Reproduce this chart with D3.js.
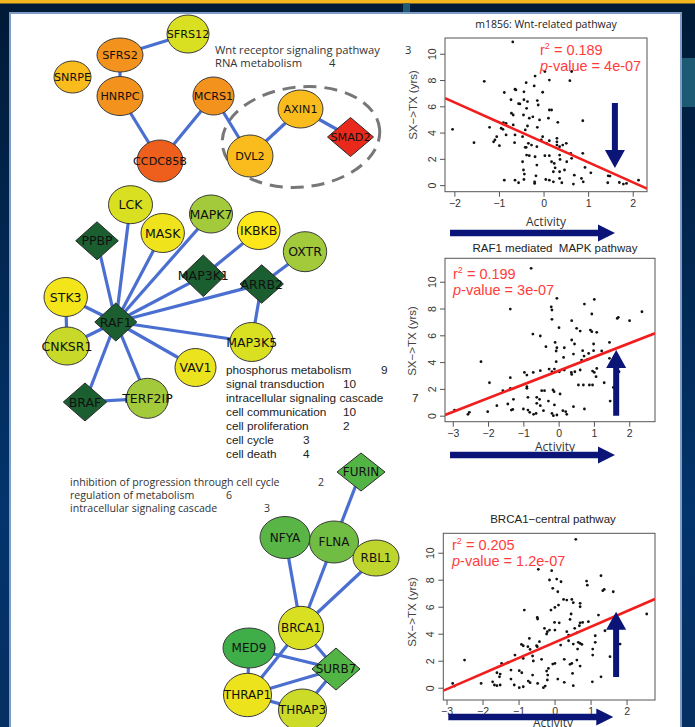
<!DOCTYPE html>
<html>
<head>
<meta charset="utf-8">
<script src="https://cdn.jsdelivr.net/npm/d3@7"></script>
<style>
html,body{margin:0;padding:0;background:#001a38;}
svg{display:block;}
text{white-space:pre;}
</style>
</head>
<body>
<svg id="fig" width="695" height="727"></svg>
<script>
// ---------------- Network data ----------------
// node names, shape (0 = gene ellipse, 1 = diamond hub), and activity score (colour scale)
const wntNodes   = ["SFRS12","SFRS2","SNRPE","HNRPC","MCRS1","CCDC85B","DVL2","AXIN1","SMAD2"];
const wntShapes  = [0,0,0,0,0,0,0,0,1];
const wntScores  = [0,2,1.5,2,2,2.5,1.5,1.5,3];
const wntEdges   = [["SFRS12","SFRS2"],["SFRS2","HNRPC"],["HNRPC","CCDC85B"],["CCDC85B","MCRS1"],
                    ["MCRS1","DVL2"],["DVL2","AXIN1"],["AXIN1","SMAD2"]];

const mapkNodes  = ["LCK","MAPK7","MASK","IKBKB","OXTR","PPBP","MAP3K1","ARRB2","STK3","RAF1","CNKSR1","MAP3K5","VAV1","TERF2IP","BRAF"];
const mapkShapes = [0,0,0,0,0,1,1,1,0,1,0,0,0,0,1];
const mapkScores = [0,-1,0.6,1,-1,-3,-3,-3,0.75,-3,-0.3,0,0.5,-1,-3];
const mapkEdges  = [["RAF1","PPBP"],["RAF1","LCK"],["RAF1","MASK"],["RAF1","MAPK7"],["RAF1","MAP3K1"],
                    ["MAP3K1","IKBKB"],["RAF1","ARRB2"],["ARRB2","OXTR"],["ARRB2","MAP3K5"],["RAF1","MAP3K5"],
                    ["RAF1","VAV1"],["RAF1","TERF2IP"],["RAF1","BRAF"],["BRAF","TERF2IP"],["RAF1","STK3"],
                    ["RAF1","CNKSR1"],["STK3","CNKSR1"]];

const brcaNodes  = ["FURIN","NFYA","FLNA","RBL1","BRCA1","MED9","SURB7","THRAP1","THRAP3"];
const brcaShapes = [1,0,0,0,0,0,1,0,0];
const brcaScores = [-1.8,-1.75,-1.5,-0.5,0,-2,-1.8,0.55,-0.25];
const brcaEdges  = [["FURIN","FLNA"],["NFYA","BRCA1"],["FLNA","BRCA1"],["RBL1","BRCA1"],["BRCA1","SURB7"],
                    ["BRCA1","THRAP1"],["MED9","SURB7"],["MED9","THRAP1"],["THRAP1","SURB7"],
                    ["THRAP1","THRAP3"],["THRAP3","SURB7"]];

// enriched GO terms and counts
const wntTerms   = ["Wnt receptor signaling pathway","RNA metabolism"];
const wntCounts  = [3,4];
const mapkTerms  = ["phosphorus metabolism","signal transduction","intracellular signaling cascade",
                    "cell communication","cell proliferation","cell cycle","cell death"];
const mapkCounts = [9,10,7,10,2,3,4];
const brcaTerms  = ["inhibition of progression through cell cycle","regulation of metabolism","intracellular signaling cascade"];
const brcaCounts = [2,6,3];

// ---------------- Scatter data (Activity, SX->TX years) ----------------
const wntPoints = [
[-0.69,10.9],[-1.33,7.9],[-0.39,7.8],[-0.19,8.3],[0.03,8.65],[0.13,8.0],[0.63,8.65],[0.59,7.95],
[-0.88,7.05],[-0.64,7.3],[-0.62,7.25],[-0.44,7.1],[-0.21,7.55],[-0.02,7.07],
[-0.73,6.5],[-0.56,6.2],[-0.53,6.18],[-0.44,6.5],[-0.36,6.36],[-0.38,5.85],[-0.14,6.44],[-0.12,6.1],
[-0.72,5.47],[-0.68,5.34],[-0.45,5.34],[-0.24,5.2],[-0.32,5.1],[-0.09,4.96],[0.13,5.72],[0.18,5.72],[0.11,5.1],[0.32,4.78],[0.88,4.9],
[-0.84,4.7],[-0.9,4.76],[-1.21,4.4],[-0.95,4.33],[-0.91,4.25],[-0.68,4.58],[-0.36,4.5],[-0.14,4.4],[-0.41,4.2],[-2.04,4.25],
[-1.56,3.23],[-1.12,3.3],[-1.09,3.44],[-1.05,3.69],[-0.99,3.0],[-0.84,3.82],[-0.64,3.82],[-0.65,3.23],[-0.47,3.69],[-0.39,2.88],
[-0.34,3.18],[-0.27,3.05],[-0.15,2.93],[-0.05,3.44],[-0.02,3.69],[0.07,3.18],[0.13,3.38],[0.3,3.56],[0.3,3.3],[0.3,3.05],[0.36,2.93],
[0.43,3.05],[0.51,3.18],
[-0.41,2.88],[-0.38,2.29],[-0.32,2.24],[-0.19,2.16],[0.03,2.24],[0.13,2.24],[0.36,2.29],[0.61,2.42],[0.88,2.42],
[-0.15,1.53],[0.18,1.78],[0.24,1.65],[0.37,1.96],[0.52,1.78],[0.63,2.04],[-0.47,1.78],
[-0.45,1.15],[-0.43,0.84],[-0.17,0.71],[0.22,1.02],[0.26,1.32],[0.36,1.02],[0.47,1.15],[0.69,0.76],[0.93,1.35],[1.06,0.94],[0.85,0.51],[0.89,0.25],
[-0.88,0.38],[-0.64,0.38],[-0.56,0.18],[-0.44,0.43],[-0.2,0.25],[-0.2,0.13],[0.05,0.43],[0.13,0.38],[0.22,0.25],[0.36,0.51],[0.41,0.18],[0.67,0.08],
[1.45,0.71],[1.49,0.69],[1.44,0.18],[1.7,0.2],[1.79,0.08],[1.86,0.13],[2.13,0.38]
];
const mapkPoints = [
[-0.78,11.0],[-1.37,7.96],[-0.05,8.76],[-0.21,8.13],[-0.19,7.89],[0.73,8.33],[1.01,8.68],[0.94,7.59],
[1.69,7.34],[1.66,7.26],[2.01,7.09],[2.36,7.76],[-0.19,7.19],[0.37,7.09],
[-0.73,6.09],[-0.52,5.95],[0.01,6.57],[0.51,6.52],[0.61,6.32],[0.9,6.39],[0.94,6.27],[1.08,6.22],
[-0.36,5.15],[-0.1,5.47],[-0.05,5.07],[-0.07,4.83],[0.16,5.07],[0.37,5.65],[0.45,5.35],[0.68,4.85],[0.99,5.35],[1.22,4.83],[1.44,5.47],
[0.99,4.85],[0.85,4.65],[0.72,4.45],[0.65,4.15],[0.82,4.2],[0.42,4.6],[0.14,4.35],[-0.07,4.03],[-2.2,4.03],
[-1.37,2.84],[-0.97,3.23],[-0.9,3.03],[-0.72,3.23],[-0.52,3.36],[-0.27,3.48],[-0.19,3.28],[-0.12,3.48],[0.02,3.28],[0.16,3.41],
[0.36,3.23],[0.37,3.08],[0.46,3.28],[0.61,3.41],[0.96,3.33],[1.01,3.23],[1.08,3.53],[1.06,2.91],[1.44,4.28],[1.52,3.98],[1.71,3.28],
[-1.96,2.46],[-1.58,1.87],[-1.37,2.04],[-0.9,2.16],[-0.9,2.04],[-0.48,1.87],[-0.4,1.87],[-0.16,1.92],[-0.13,1.79],[0.04,1.62],
[0.56,2.29],[0.7,2.29],[0.87,2.29],[0.96,2.29],[1.55,2.11],[1.29,2.46],
[-1.28,1.22],[-0.87,1.37],[-0.62,1.37],[-0.54,1.22],[-0.29,1.09],[1.46,1.09],[-1.44,0.87],[-1.75,0.75],
[-1.34,0.42],[-1.3,0.47],[-1.0,0.5],[-0.87,0.42],[-0.82,0.25],[-0.71,0.1],[-0.64,0.17],[-0.62,0.92],[-0.52,0.75],[-0.43,0.37],
[-0.19,0.17],[-0.15,0.0],[-0.05,0.05],[-0.12,0.8],[0.12,0.37],[0.2,0.3],[0.23,0.1],[0.42,0.67],[0.73,0.5],
[-2.01,0.3],[-2.53,0.25],[-2.57,0.1],[-2.95,0.42]
];
const brcaPoints = [
[0.59,10.99],[-0.45,8.77],[-0.08,8.67],[1.29,8.3],[-0.14,7.98],[0.06,8.05],[0.18,7.85],[0.89,7.9],[0.91,7.6],
[-0.05,7.36],[0.09,7.11],[1.34,7.19],[1.38,7.28],[1.63,7.11],
[0.25,6.54],[0.34,6.49],[0.48,6.54],[0.52,6.3],[0.71,6.25],[0.11,6.12],[0.01,5.95],[-0.1,5.75],[-0.84,5.75],
[-0.48,5.21],[-0.47,5.09],[0.71,6.0],[0.46,5.46],[0.43,5.06],[0.0,4.84],[0.13,4.81],[0.71,4.81],[0.78,4.84],[0.94,4.89],[1.22,5.38],
[-0.28,4.4],[-0.22,3.98],[-0.2,4.15],[-0.14,4.27],[0.01,4.27],[0.34,4.15],[0.39,3.9],[0.56,4.4],[0.62,4.07],[0.69,4.59],[1.4,4.22],[1.13,3.85],
[-0.7,3.65],[-0.87,3.11],[-0.92,3.21],[-0.74,3.04],[-0.68,2.84],[-0.5,3.11],[-0.48,3.04],[-0.42,3.41],[0.17,3.16],[0.39,3.48],
[0.66,3.36],[0.71,3.28],[0.76,3.21],[0.52,3.23],[1.13,3.36],[1.82,3.23],
[-1.1,2.42],[-1.28,1.88],[-0.87,2.17],[-0.61,2.35],[-0.36,2.1],[-0.59,1.98],[0.27,2.1],[0.62,2.05],[0.64,2.86],[1.06,2.86],[1.06,2.42],[1.54,2.3],
[-2.5,2.05],[-0.05,1.75],[0.01,1.8],[0.43,1.73],[0.48,1.8],[0.71,1.6],[-1.47,1.8],
[-1.6,1.11],[-1.51,1.01],[-1.53,0.81],[-1.21,1.31],[-0.98,1.26],[-0.91,1.11],[-0.61,0.94],[-0.22,1.23],[-0.19,0.94],[-0.17,1.43],[0.5,1.06],[1.29,0.81],
[-1.72,0.44],[-1.67,0.2],[-1.6,0.15],[-1.51,0.2],[-2.04,0.32],[-1.21,0.64],[-1.12,0.2],[-0.98,0.0],[-0.87,0.07],[-0.73,0.49],[-0.68,0.37],
[-0.47,0.32],[-0.31,0.0],[-0.26,0.12],[-0.2,0.57],[0.09,0.64],[0.27,0.4],[0.52,0.15],[1.05,0.44],[-2.83,0.32],[-2.78,0.12],[2.56,5.46]
];

// regression fits: intercept, slope
const wntFit  = [3.26,-1.52];
const mapkFit = [3.35,1.025];
const brcaFit = [3.35,1.155];
const wntStats  = ["0.189","4e-07"];
const mapkStats = ["0.199","3e-07"];
const brcaStats = ["0.205","1.2e-07"];
const titles = ["m1856: Wnt-related pathway","RAF1 mediated  MAPK pathway","BRCA1\u2212central pathway"];
const xTickVals = [[-2,-1,0,1,2],[-3,-2,-1,0,1,2],[-3,-2,-1,0,1,2]];
const yTickVals = [0,2,4,6,8,10];

// ---------------- Layout ----------------
const nodeLayout = {
  SFRS12:[188,34,21,19], SFRS2:[120,55,23,17], SNRPE:[72.5,77,18.5,16], HNRPC:[120,96,23,19.5],
  MCRS1:[213.5,96,20.5,19], CCDC85B:[160,161,23,21], DVL2:[250,156,23,21], AXIN1:[300.5,109,22.5,19],
  SMAD2:[350.5,137,23,19.5],
  LCK:[130.5,204.7,22,19], MAPK7:[211,214,21.5,19], MASK:[162.7,233,21.7,19.5], IKBKB:[258.7,230.5,21.3,19],
  OXTR:[305,251.7,21.7,20], PPBP:[97,240.8,21.3,19], MAP3K1:[203.3,275.8,21.7,20.8], ARRB2:[261.7,284,21.7,19.2],
  STK3:[65.7,297,21.7,19.5], RAF1:[115.8,322,21,19], CNKSR1:[67,346,22,19], MAP3K5:[251.7,342,21.7,19.5],
  VAV1:[195.5,367.5,20.5,19], TERF2IP:[147.5,398.3,21,20], BRAF:[85,402,21.7,19],
  FURIN:[361,472,24,19], NFYA:[285,537.5,25,21], FLNA:[334,542,24.5,21], RBL1:[376,558,23,18],
  BRCA1:[301,628,22.5,21.7], MED9:[249,648,26,20], SURB7:[336,669,24,21], THRAP1:[247.5,695,24,21.7],
  THRAP3:[302.5,710,24,21]
};

const activityColor = d3.scaleLinear()
  .domain([-3,-2,-1,0,1,2,3])
  .range(["#1b5e30","#3fae49","#a2ca3b","#d9e021","#fde619","#f4921e","#e8291c"])
  .interpolate(d3.interpolateRgb);

const svg = d3.select("#fig");

// ---------------- Backdrop ----------------
const defs = svg.append("defs");
const bg = defs.append("linearGradient").attr("id","bg").attr("x1",0).attr("y1",0).attr("x2",0).attr("y2",1);
bg.append("stop").attr("offset","0%").attr("stop-color","#001a36");
bg.append("stop").attr("offset","70%").attr("stop-color","#03346c");
bg.append("stop").attr("offset","100%").attr("stop-color","#062f62");
svg.append("rect").attr("width",695).attr("height",727).attr("fill","url(#bg)");
svg.append("rect").attr("x",0).attr("y",0).attr("width",695).attr("height",3.5).attr("fill","#f3b61f");
svg.append("rect").attr("x",403).attr("y",3.5).attr("width",7).attr("height",10).attr("fill","#1f5a76");
svg.append("rect").attr("x",682).attr("y",58).attr("width",13).attr("height",49).attr("fill","#1d5a74");
svg.append("rect").attr("x",10).attr("y",13).attr("width",671).attr("height",730)
  .attr("fill","#ffffff").attr("stroke","#7f9cc6").attr("stroke-width",2);

// ---------------- Networks ----------------
function drawNetwork(names, shapes, scores, edges, fontSize) {
  const g = svg.append("g");
  const info = {};
  names.forEach((n,i) => info[n] = {name:n, shape:shapes[i], score:scores[i], p:nodeLayout[n]});
  g.selectAll("line.edge").data(edges).join("line")
    .attr("x1", d => info[d[0]].p[0]).attr("y1", d => info[d[0]].p[1])
    .attr("x2", d => info[d[1]].p[0]).attr("y2", d => info[d[1]].p[1])
    .attr("stroke","#4a6fd0").attr("stroke-width",3.2);
  const nodes = g.selectAll("g.node").data(names.map(n => info[n])).join("g")
    .attr("transform", d => `translate(${d.p[0]},${d.p[1]})`);
  nodes.each(function(d){
    const s = d3.select(this);
    const [ , , rx, ry] = d.p;
    if (d.shape === 1) {
      s.append("path").attr("d", `M0,${-ry}L${rx},0L0,${ry}L${-rx},0Z`)
        .attr("fill", activityColor(d.score)).attr("stroke","#2a2a2a").attr("stroke-width",1);
    } else {
      s.append("ellipse").attr("rx",rx).attr("ry",ry)
        .attr("fill", activityColor(d.score)).attr("stroke","#3a3a3a").attr("stroke-width",1);
    }
  });
  nodes.append("text").text(d => d.name)
    .attr("text-anchor","middle").attr("dy","0.36em")
    .attr("font-family","'DejaVu Sans', sans-serif").attr("font-size",fontSize)
    .attr("fill","#111");
}

// dashed outline around the Wnt core
svg.append("ellipse").attr("cx",301).attr("cy",137).attr("rx",79).attr("ry",50)
  .attr("transform","rotate(-6,301,137)")
  .attr("fill","none").attr("stroke","#777").attr("stroke-width",3).attr("stroke-dasharray","13 8");

drawNetwork(wntNodes, wntShapes, wntScores, wntEdges, 11.2);
drawNetwork(mapkNodes, mapkShapes, mapkScores, mapkEdges, 12.5);
drawNetwork(brcaNodes, brcaShapes, brcaScores, brcaEdges, 12);

// ---------------- GO term lists ----------------
function termBlock(terms, counts, x, ys, countXs, font, size, color) {
  const g = svg.append("g").attr("font-family",font).attr("font-size",size).attr("fill",color);
  terms.forEach((t,i) => {
    g.append("text").attr("x",x).attr("y",ys[i]).attr("dy","0.35em").text(t);
    g.append("text").attr("x",countXs[i]).attr("y",ys[i]).attr("dy","0.35em").text(counts[i]);
  });
}
termBlock(wntTerms, wntCounts, 215, [50,63.5], [405,329], "'Open Sans', sans-serif", 11.2, "#333");
termBlock(mapkTerms, mapkCounts, 226, [370,384.3,398.3,412.3,426,440,454],
          [381,343,412,343,343,303,303], "'Liberation Sans', Arial, sans-serif", 11.8, "#222");
termBlock(brcaTerms, brcaCounts, 70, [482.5,495.2,508.5], [318,226,264], "'Open Sans', sans-serif", 10.6, "#333");

// ---------------- Scatter panels ----------------
const fmtTick = d => d < 0 ? "\u2212" + Math.abs(d) : String(d);

function arrowH(g, x0, x1, y) {
  const head = 17;
  g.append("path").attr("fill","#0b1577")
    .attr("d", `M${x0},${y-3.2}L${x1-head},${y-3.2}L${x1-head},${y-8.5}L${x1},${y}L${x1-head},${y+8.5}L${x1-head},${y+3.2}L${x0},${y+3.2}Z`);
}
function arrowV(g, x, yFrom, yTo) {
  const dir = yTo < yFrom ? -1 : 1, head = 18, hw = 10, sw = 3;
  const yh = yTo - dir*head;
  g.append("path").attr("fill","#0b1577")
    .attr("d", `M${x-sw},${yFrom}L${x-sw},${yh}L${x-hw},${yh}L${x},${yTo}L${x+hw},${yh}L${x+sw},${yh}L${x+sw},${yFrom}Z`);
}

function scatter(cfg) {
  const g = svg.append("g");
  const x = d3.scaleLinear().domain(cfg.xDomain).range([cfg.left, cfg.right]);
  const y = d3.scaleLinear().domain(cfg.yDomain).range([cfg.bottom, cfg.top]);
  const cid = "clip" + cfg.id;
  defs.append("clipPath").attr("id",cid).append("rect")
    .attr("x",cfg.left).attr("y",cfg.top).attr("width",cfg.right-cfg.left).attr("height",cfg.bottom-cfg.top);

  // title
  g.append("text").attr("x",cfg.titleX).attr("y",cfg.titleY).attr("dy","0.35em").attr("text-anchor","middle")
    .attr("font-family",cfg.titleFont).attr("font-size",cfg.titleSize).attr("fill","#222").text(cfg.title);

  // axes
  const xa = g.append("g").attr("transform",`translate(0,${cfg.bottom})`)
    .call(d3.axisBottom(x).tickValues(cfg.xTicks).tickSize(5).tickPadding(3).tickFormat(fmtTick));
  const ya = g.append("g").attr("transform",`translate(${cfg.left},0)`)
    .call(d3.axisLeft(y).tickValues(yTickVals).tickSize(5).tickFormat(fmtTick));
  [xa, ya].forEach(a => {
    a.select(".domain").remove();
    a.selectAll("line").attr("stroke","#555");
    a.selectAll("text").attr("font-family","'Liberation Sans', Arial, sans-serif").attr("font-size",10.5).attr("fill","#333");
  });
  ya.selectAll("text").attr("x",null).attr("dy",null).attr("text-anchor","middle")
    .attr("transform","translate(-9.5,0) rotate(-90)");

  g.append("rect").attr("x",cfg.left).attr("y",cfg.top).attr("width",cfg.right-cfg.left).attr("height",cfg.bottom-cfg.top)
    .attr("fill","none").attr("stroke","#555").attr("stroke-width",1);

  // axis titles
  g.append("text").attr("transform",`translate(${cfg.yLabelX},${cfg.yLabelY}) rotate(-90)`)
    .attr("text-anchor","middle").attr("dy","0.35em")
    .attr("font-family","'Liberation Sans', Arial, sans-serif").attr("font-size",11.5).attr("fill","#444")
    .text("SX\u2212>TX (yrs)");
  g.append("text").attr("x",cfg.xLabelX).attr("y",cfg.xLabelY).attr("dy","0.35em").attr("text-anchor","middle")
    .attr("font-family","'Open Sans', sans-serif").attr("font-size",12).attr("fill","#333").text("Activity");

  // points
  g.append("g").selectAll("circle").data(cfg.points).join("circle")
    .attr("cx", d => x(d[0])).attr("cy", d => y(d[1])).attr("r",1.4).attr("fill","#111");

  // regression line
  const [b0, b1] = cfg.fit;
  g.append("line").attr("clip-path",`url(#${cid})`)
    .attr("x1", x(cfg.xDomain[0])).attr("y1", y(b0 + b1*cfg.xDomain[0]))
    .attr("x2", x(cfg.xDomain[1])).attr("y2", y(b0 + b1*cfg.xDomain[1]))
    .attr("stroke","#f21d1d").attr("stroke-width",2.6);

  // statistics
  const st = g.append("g").attr("font-family","'Liberation Sans', Arial, sans-serif").attr("font-size",14.5).attr("fill","#ff3c3c");
  const r2 = st.append("text").attr("x",cfg.statX).attr("y",cfg.statY);
  r2.append("tspan").text("r");
  r2.append("tspan").attr("font-size",9).attr("dy",-6).text("2");
  r2.append("tspan").attr("dy",6).text(" = " + cfg.stats[0]);
  const pv = st.append("text").attr("x",cfg.statX).attr("y",cfg.statY + 15.5);
  pv.append("tspan").attr("font-style","italic").text("p");
  pv.append("tspan").text("-value = " + cfg.stats[1]);

  // direction arrows
  arrowV(g, x(cfg.vArrow[0]), y(cfg.vArrow[1]), y(cfg.vArrow[2]));
  arrowH(g, cfg.left + 5, cfg.left + 170, cfg.hArrowY);
}

scatter({id:1, points:wntPoints, fit:wntFit, stats:wntStats, title:titles[0],
  titleX:546, titleY:24, titleFont:"'Open Sans', sans-serif", titleSize:10.5,
  xDomain:[-2.21,2.32], yDomain:[-0.5,11.2], left:445, right:647, top:38, bottom:191.7,
  xTicks:xTickVals[0], yLabelX:413, yLabelY:105, xLabelX:546, xLabelY:222,
  statX:540, statY:55, vArrow:[1.6,6.26,1.3], hArrowY:233});

scatter({id:2, points:mapkPoints, fit:mapkFit, stats:mapkStats, title:titles[1],
  titleX:555, titleY:248, titleFont:"'Liberation Sans', Arial, sans-serif", titleSize:11.5,
  xDomain:[-3.22,2.73], yDomain:[-0.45,11.75], left:445, right:655, top:258.3, bottom:421.7,
  xTicks:xTickVals[1], yLabelX:412, yLabelY:341, xLabelX:555, xLabelY:447,
  statX:453, statY:279, vArrow:[1.63,0,4.9], hArrowY:455});

scatter({id:3, points:brcaPoints, fit:brcaFit, stats:brcaStats, title:titles[2],
  titleX:553, titleY:519, titleFont:"'Liberation Sans', Arial, sans-serif", titleSize:11.5,
  xDomain:[-3.09,2.79], yDomain:[-0.91,11.44], left:443.3, right:655, top:533.3, bottom:700,
  xTicks:xTickVals[2], yLabelX:412, yLabelY:612, xLabelX:553, xLabelY:723,
  statX:452, statY:550, vArrow:[1.71,0.8,5.63], hArrowY:717});
</script>
</body>
</html>
